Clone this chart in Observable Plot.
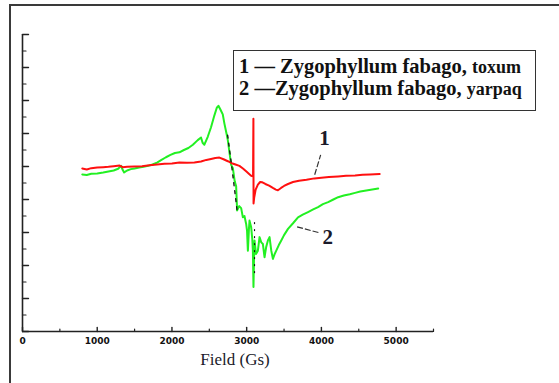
<!DOCTYPE html>
<html>
<head>
<meta charset="utf-8">
<script src="https://cdn.jsdelivr.net/npm/d3@7"></script>
<script src="https://cdn.jsdelivr.net/npm/@observablehq/plot@0.6"></script>
<style>
html, body { margin: 0; padding: 0; background: #fff; }
#wrap { position: relative; width: 559px; height: 383px; overflow: hidden; }
#outer { position: absolute; left: 9px; top: 4px; width: 600px; height: 400px; border-left: 2px solid #3a3a3a; border-top: 2px solid #3a3a3a; }
#chart { position: absolute; left: 0; top: 0; }
#legend { position: absolute; left: 233px; top: 50px; width: 301px; height: 59px; border: 1.5px solid #333; background: #fff;
  font-family: "Liberation Serif", "Times New Roman", serif; font-weight: bold; color: #111; }
#legend .row { position: absolute; left: 5px; white-space: nowrap; font-size: 20.5px; line-height: 20px; }
#legend .small { font-size: 18px; }
</style>
</head>
<body>
<div id="wrap">
  <div id="outer"></div>
  <div id="chart"></div>
  <div id="legend"></div>
</div>
<script>
// ---- data ----
const legendLabels = ["1 \u2014 Zygophyllum fabago, ", "2 \u2014Zygophyllum fabago, "];
const legendSuffix = ["toxum", "yarpaq"];
const xTicks = [0, 1000, 2000, 3000, 4000, 5000];
const xMinor = [500, 1500, 2500, 3500, 4500, 5500];
const yMajor = [0, 1, 2, 3, 4, 5, 6, 7, 8, 9];
const yMinor = [0.5, 1.5, 2.5, 3.5, 4.5, 5.5, 6.5, 7.5, 8.5];
const xTitle = "Field (Gs)";

// series 1 (toxum, red)
const redX = [800, 860, 920, 1000, 1080, 1150, 1220, 1300, 1340, 1400, 1500, 1600, 1700, 1800, 1900, 2000, 2100, 2200, 2300, 2389, 2460, 2523, 2580, 2635, 2690, 2748, 2800, 2850, 2903, 2950, 3000, 3040, 3060, 3085, 3090, 3092, 3100, 3120, 3150, 3180, 3210, 3250, 3300, 3350, 3390, 3418, 3460, 3500, 3553, 3620, 3700, 3800, 3906, 4000, 4100, 4224, 4330, 4450, 4550, 4650, 4780];
const redY = [4.94, 4.91, 4.95, 4.97, 4.98, 4.99, 5.01, 5.03, 4.98, 4.99, 5.00, 5.01, 5.04, 5.06, 5.08, 5.09, 5.12, 5.11, 5.12, 5.15, 5.20, 5.23, 5.26, 5.27, 5.22, 5.16, 5.10, 5.06, 5.02, 4.94, 4.84, 4.76, 4.72, 4.70, 6.45, 3.88, 4.05, 4.30, 4.45, 4.53, 4.52, 4.47, 4.42, 4.35, 4.30, 4.28, 4.35, 4.41, 4.47, 4.53, 4.57, 4.60, 4.64, 4.66, 4.68, 4.70, 4.72, 4.73, 4.75, 4.76, 4.77];

// series 2 (yarpaq, green)
const greenX = [800, 860, 920, 1000, 1080, 1150, 1220, 1280, 1320, 1340, 1360, 1400, 1450, 1500, 1560, 1620, 1680, 1740, 1800, 1860, 1920, 1980, 2040, 2100, 2160, 2220, 2280, 2345, 2389, 2410, 2434, 2460, 2479, 2523, 2568, 2600, 2622, 2650, 2680, 2702, 2730, 2748, 2792, 2815, 2840, 2859, 2872, 2900, 2926, 2949, 2970, 2993, 3005, 3016, 3030, 3038, 3060, 3075, 3083, 3091, 3098, 3105, 3125, 3150, 3172, 3195, 3217, 3239, 3260, 3284, 3306, 3329, 3351, 3375, 3396, 3430, 3463, 3500, 3553, 3620, 3687, 3750, 3821, 3890, 3955, 4020, 4090, 4160, 4224, 4300, 4380, 4450, 4520, 4600, 4680, 4760];
const greenY = [4.76, 4.74, 4.78, 4.79, 4.82, 4.85, 4.88, 4.93, 5.02, 4.90, 4.82, 4.88, 4.92, 4.94, 4.97, 4.99, 5.02, 5.06, 5.12, 5.20, 5.28, 5.35, 5.41, 5.43, 5.50, 5.56, 5.66, 5.80, 5.88, 5.72, 5.66, 5.80, 5.90, 6.19, 6.55, 6.78, 6.84, 6.72, 6.58, 6.30, 6.00, 5.79, 5.05, 4.95, 4.55, 4.40, 3.67, 3.80, 3.74, 3.46, 3.50, 3.26, 3.05, 2.45, 3.10, 3.36, 3.16, 2.80, 2.45, 1.35, 2.20, 2.76, 2.35, 2.45, 2.86, 2.70, 2.65, 2.25, 2.55, 2.76, 2.86, 2.45, 2.20, 2.35, 2.45, 2.62, 2.76, 2.92, 3.11, 3.28, 3.46, 3.54, 3.62, 3.70, 3.77, 3.86, 3.92, 4.00, 4.07, 4.12, 4.16, 4.20, 4.24, 4.27, 4.30, 4.33];

// black dashed trace fragments
const darkX = [2745, 2800, 2872];
const darkY = [5.95, 5.00, 3.67];
const dark2X = [3105, 3105];
const dark2Y = [3.30, 1.75];

// curve number annotations
const annLabels = ["1", "2"];
const annX = [4040, 4085];
const annY = [5.85, 2.85];
const leaderX1 = [3910, 3675];
const leaderY1 = [4.75, 3.17];
const leaderX2 = [3990, 3975];
const leaderY2 = [5.35, 2.99];

// ---- build ----
const red = redX.map((x, i) => ({x, y: redY[i]}));
const green = greenX.map((x, i) => ({x, y: greenY[i]}));
const dark = darkX.map((x, i) => ({x, y: darkY[i]}));
const dark2 = dark2X.map((x, i) => ({x, y: dark2Y[i]}));
const anns = annLabels.map((t, i) => ({t, x: annX[i], y: annY[i]}));
const leaders = leaderX1.map((x, i) => ({x1: x, y1: leaderY1[i], x2: leaderX2[i], y2: leaderY2[i]}));

const line = {draw(ctx, l) { ctx.moveTo(0, 0); ctx.lineTo(0, -l); }};
const axisColor = "#222";

const chart = Plot.plot({
  width: 559, height: 383,
  marginLeft: 22, marginRight: 126, marginTop: 34, marginBottom: 52,
  x: {domain: [0, 5500]},
  y: {domain: [0, 9], axis: null},
  style: {background: "transparent", overflow: "visible"},
  marks: [
    Plot.ruleY([0], {stroke: axisColor, strokeWidth: 1.6}),
    Plot.ruleX([0], {stroke: axisColor, strokeWidth: 1.6}),
    Plot.vector(xTicks, {x: d => d, y: 0, length: 4, rotate: 0, anchor: "start", shape: line, stroke: axisColor, strokeWidth: 1.4}),
    Plot.vector(xMinor, {x: d => d, y: 0, length: 2.5, rotate: 0, anchor: "start", shape: line, stroke: axisColor, strokeWidth: 1.2}),
    Plot.vector(yMajor, {x: 0, y: d => d, length: 6, rotate: 90, anchor: "start", shape: line, stroke: axisColor, strokeWidth: 1.4}),
    Plot.vector(yMinor, {x: 0, y: d => d, length: 3.5, rotate: 90, anchor: "start", shape: line, stroke: axisColor, strokeWidth: 1.2}),
    Plot.axisX({ticks: xTicks, tickSize: 0, tickPadding: 6, tickFormat: d => String(d), label: null,
      fontSize: 9, fontWeight: "bold", fontFamily: "DejaVu Sans", fill: "#111"}),
    Plot.text([xTitle], {frameAnchor: "bottom", dx: 7, dy: 33, text: d => d, fontFamily: "Liberation Serif", fontSize: 17, fill: "#1a1a2a"}),
    Plot.line(green, {x: "x", y: "y", stroke: "#22f022", strokeWidth: 2}),
    Plot.line(red, {x: "x", y: "y", stroke: "#ff1010", strokeWidth: 2}),
    Plot.line(dark, {x: "x", y: "y", stroke: "#111", strokeWidth: 1.3, strokeDasharray: "3,5"}),
    Plot.line(dark2, {x: "x", y: "y", stroke: "#111", strokeWidth: 1.2, strokeDasharray: "1,6"}),
    Plot.link(leaders, {x1: "x1", y1: "y1", x2: "x2", y2: "y2", stroke: "#333", strokeWidth: 1.2, strokeDasharray: "6,2"}),
    Plot.text(anns, {x: "x", y: "y", text: "t", fontFamily: "Liberation Serif", fontWeight: "bold", fontSize: 21, fill: "#1a1a2a"})
  ]
});
document.getElementById("chart").appendChild(chart);

const lg = document.getElementById("legend");
legendLabels.forEach((t, i) => {
  const row = document.createElement("div");
  row.className = "row";
  row.style.top = (5 + i * 22) + "px";
  row.appendChild(document.createTextNode(t));
  const s = document.createElement("span");
  s.className = "small";
  s.textContent = legendSuffix[i];
  row.appendChild(s);
  lg.appendChild(row);
});
</script>
</body>
</html>
